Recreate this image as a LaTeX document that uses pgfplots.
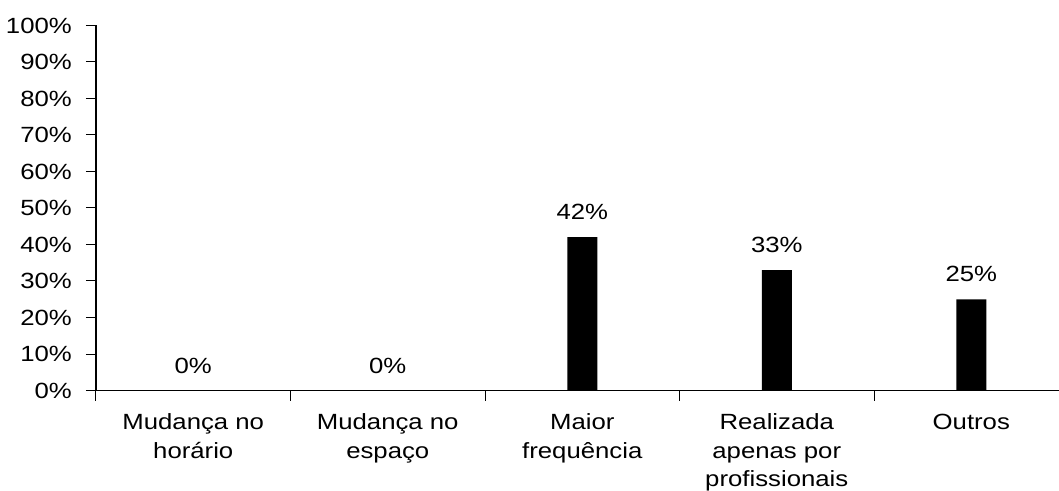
\documentclass[border=0pt]{standalone}
\usepackage{fontspec}
\setmainfont[FakeStretch=1.17]{Liberation Sans}
\usepackage{pgfplots}
\pgfplotsset{compat=1.18}

\begin{document}
\fontsize{22bp}{28.5bp}\selectfont
\begin{tikzpicture}
\useasboundingbox (-96bp,-100.5bp) rectangle (963bp,390.5bp);
\begin{axis}[
  at={(0,0)}, anchor=south west,
  scale only axis, width=963bp, height=365bp,
  xmin=0, xmax=4.951, ymin=0, ymax=100,
  axis x line=bottom, axis y line=left,
  axis line style={-, line width=1.1bp, black},
  tick align=outside, major tick length=10bp,
  tick style={black, line width=1bp},
  xtick={0,1,2,3,4}, xticklabels={},
  extra x ticks={0.5,1.5,2.5,3.5,4.5},
  extra x tick labels={{Mudança no\\horário},{Mudança no\\espaço},{Maior\\frequência},{Realizada\\apenas por\\profissionais},{Outros}},
  extra x tick style={major tick length=0pt, tick style={draw=none}},
  x tick label style={font=\fontsize{22bp}{28.5bp}\selectfont, align=center, anchor=north, inner sep=0pt, yshift=-23bp},
  ytick={0,10,...,100},
  yticklabels={0\%,10\%,20\%,30\%,40\%,50\%,60\%,70\%,80\%,90\%,100\%},
  y tick label style={font=\fontsize{22bp}{26bp}\selectfont, anchor=east, inner sep=0pt, xshift=-14bp},
  ybar, bar width=30bp,
  /pgf/number format/assume math mode=true,
  nodes near coords={\pgfmathprintnumber{\pgfplotspointmeta}\%},
  nodes near coords style={font=\fontsize{22bp}{26bp}\selectfont, anchor=south, inner sep=0pt, yshift=17bp},
  clip=false,
]
\addplot[fill=black, draw=none] coordinates {(0.5,0) (1.5,0) (2.5,42) (3.5,33) (4.5,25)};
\end{axis}
\end{tikzpicture}
\end{document}
